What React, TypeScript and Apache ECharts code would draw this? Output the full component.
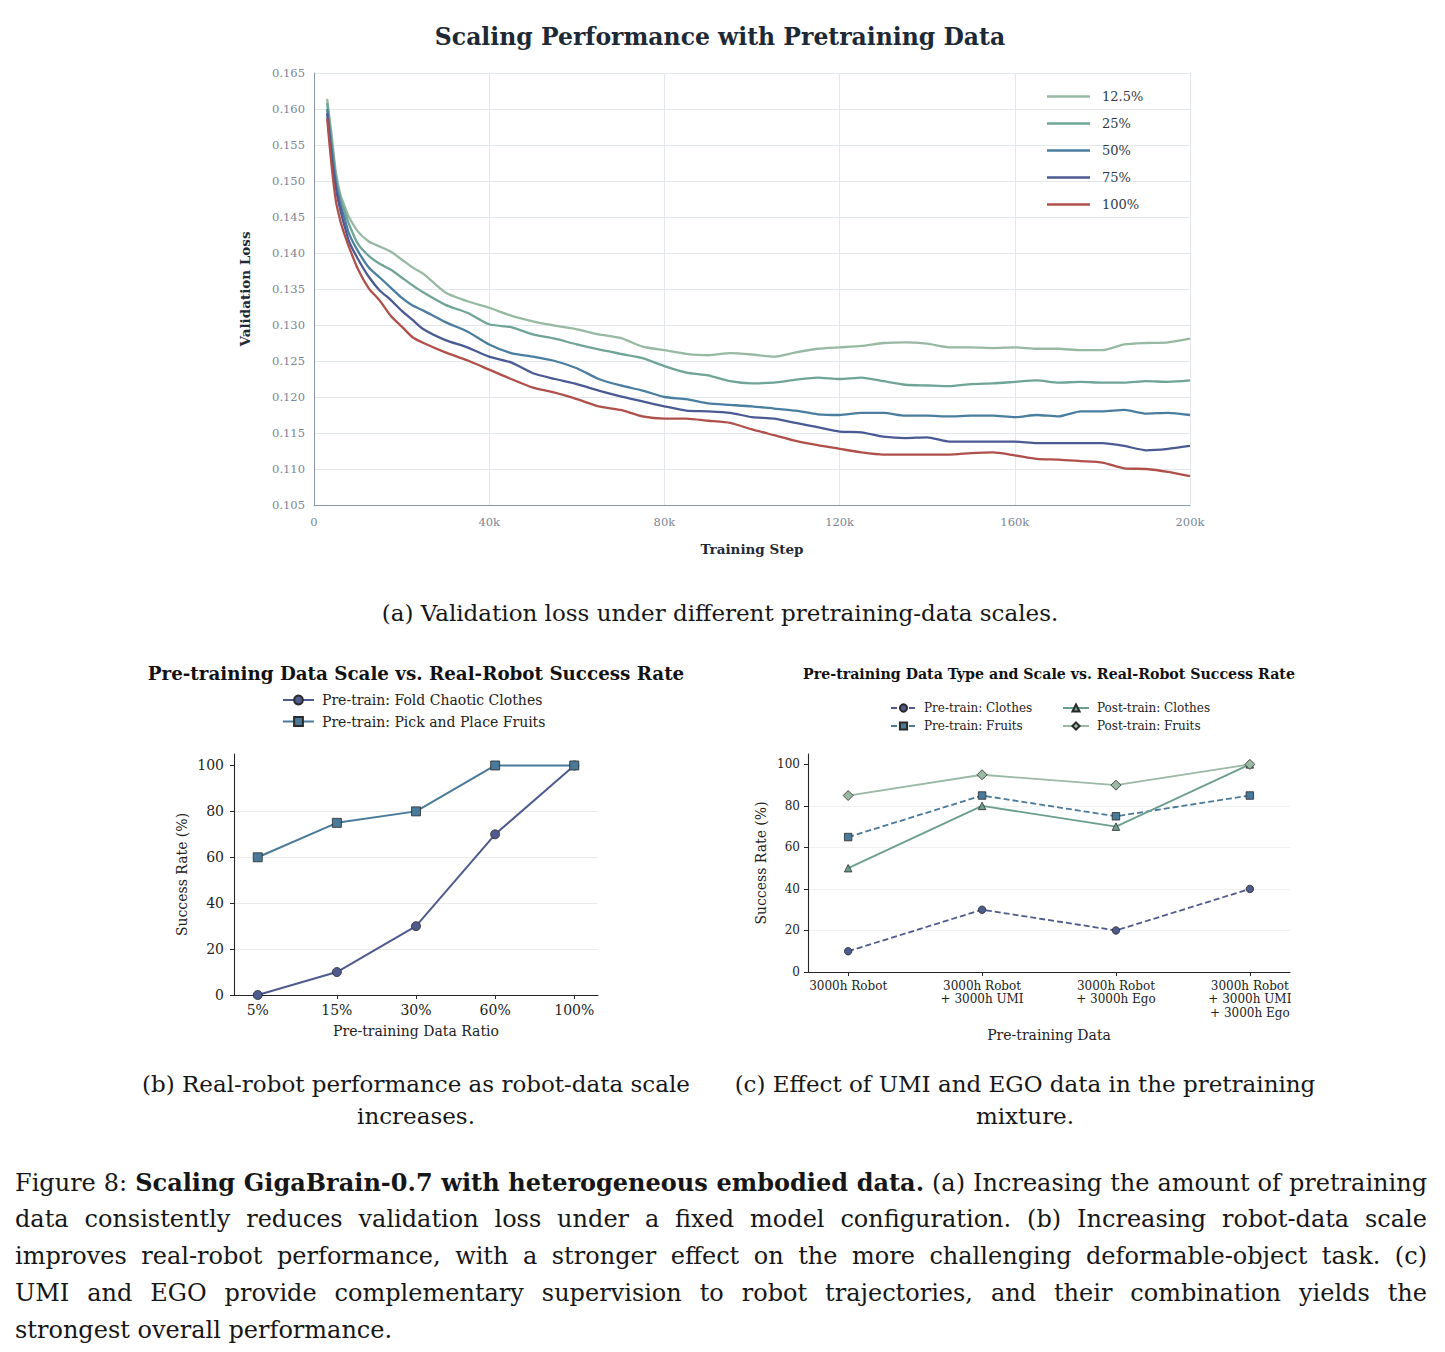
import React, { useEffect, useRef } from 'react';
import * as echarts from 'echarts';

const SERIF = '"DejaVu Serif", serif';

// (a) validation loss
const trainingSteps = [
  3000, 4000, 5000, 6000, 7000, 8000, 10000, 12500, 15000, 17500, 20000, 22500, 25000,
  30000, 35000, 40000, 45000, 50000, 55000, 60000, 65000, 70000, 75000,
  80000, 85000, 90000, 95000, 100000, 105000, 110000, 115000, 120000, 125000,
  130000, 135000, 140000, 145000, 150000, 155000, 160000, 165000, 170000, 175000,
  180000, 185000, 190000, 195000, 200000,
];
const lossNames = ['12.5%', '25%', '50%', '75%', '100%'];
const loss12 = [
  0.1614, 0.1565, 0.1512, 0.1482, 0.1465, 0.145, 0.143, 0.1416, 0.1409, 0.1402, 0.1391, 0.138, 0.1371,
  0.1345, 0.1333, 0.1324, 0.1313, 0.1305, 0.1299, 0.1294, 0.1287, 0.1282, 0.127,
  0.1265, 0.126, 0.1258, 0.1261, 0.1259, 0.1256, 0.1262, 0.1267, 0.1269, 0.1271,
  0.1275, 0.1276, 0.1274, 0.1269, 0.1269, 0.1268, 0.1269, 0.1267, 0.1267, 0.1265,
  0.1265, 0.1273, 0.1275, 0.1276, 0.1281,
];
const loss25 = [
  0.1608, 0.1556, 0.1505, 0.1476, 0.1458, 0.144, 0.1413, 0.1396, 0.1385, 0.1377, 0.1366, 0.1355, 0.1345,
  0.1328, 0.1317, 0.1301, 0.1297, 0.1287, 0.1281, 0.1273, 0.1266, 0.126, 0.1254,
  0.1243, 0.1234, 0.123, 0.1222, 0.1219, 0.122, 0.1224, 0.1227, 0.1225, 0.1227,
  0.1222, 0.1217, 0.1216, 0.1215, 0.1218, 0.1219, 0.1221, 0.1223, 0.122, 0.1221,
  0.122, 0.122, 0.1222, 0.1221, 0.1223,
];
const loss50 = [
  0.16, 0.1545, 0.1497, 0.1468, 0.1448, 0.1427, 0.1403, 0.138, 0.1366, 0.1352, 0.1338, 0.1327, 0.132,
  0.1304, 0.1291, 0.1273, 0.1261, 0.1256, 0.125, 0.124, 0.1225, 0.1216, 0.1209,
  0.12, 0.1197, 0.1191, 0.1189, 0.1187, 0.1184, 0.1181, 0.1176, 0.1175, 0.1178,
  0.1178, 0.1174, 0.1174, 0.1173, 0.1174, 0.1174, 0.1172, 0.1175, 0.1173, 0.118,
  0.118, 0.1182, 0.1177, 0.1178, 0.1175,
];
const loss75 = [
  0.1594, 0.1535, 0.149, 0.146, 0.1437, 0.1416, 0.1392, 0.1367, 0.1348, 0.1335, 0.132, 0.1307, 0.1294,
  0.1279, 0.1269, 0.1256, 0.1248, 0.1233, 0.1225, 0.1218, 0.1209, 0.1201, 0.1194,
  0.1187, 0.1181, 0.118, 0.1178, 0.1172, 0.117, 0.1164, 0.1158, 0.1152, 0.1151,
  0.1145, 0.1143, 0.1144, 0.1138, 0.1138, 0.1138, 0.1138, 0.1136, 0.1136, 0.1136,
  0.1136, 0.1132, 0.1126, 0.1128, 0.1132,
];
const loss100 = [
  0.1587, 0.1522, 0.1472, 0.1445, 0.1425, 0.1408, 0.1378, 0.1351, 0.1334, 0.1313, 0.1298, 0.1283, 0.1275,
  0.1262, 0.1251, 0.1238, 0.1225, 0.1213, 0.1206, 0.1197, 0.1187, 0.1182, 0.1173,
  0.117, 0.117, 0.1167, 0.1164, 0.1155, 0.1147, 0.1139, 0.1133, 0.1128, 0.1123,
  0.112, 0.112, 0.112, 0.112, 0.1122, 0.1123, 0.1119, 0.1114, 0.1113, 0.1111,
  0.1109, 0.1101, 0.11, 0.1096, 0.109,
];
const lossColors = ['#97b9a2', '#6fa496', '#4a7ea0', '#4b5a93', '#b0504a'];

// (b) robot-data scale
const dataRatios = ['5%', '15%', '30%', '60%', '100%'];
const foldClothesRate = [0, 10, 30, 70, 100];
const pickFruitsRate = [60, 75, 80, 100, 100];

// (c) data mixture
const mixtureLabels = [
  '3000h Robot',
  '3000h Robot\n+ 3000h UMI',
  '3000h Robot\n+ 3000h Ego',
  '3000h Robot\n+ 3000h UMI\n+ 3000h Ego',
];
const preClothes = [10, 30, 20, 40];
const preFruits = [65, 85, 75, 85];
const postClothes = [50, 80, 70, 100];
const postFruits = [85, 95, 90, 100];

const successTicks = [0, 20, 40, 60, 80, 100];

const captionLines = [
  'data consistently reduces validation loss under a fixed model configuration. (b) Increasing robot-data scale',
  'improves real-robot performance, with a stronger effect on the more challenging deformable-object task. (c)',
  'UMI and EGO provide complementary supervision to robot trajectories, and their combination yields the',
];

const lossSeries = [loss12, loss25, loss50, loss75, loss100];

const indexPairs = (vals: number[]) => vals.map((v, i) => [i, v]);

const buildOption = (): echarts.EChartsOption => {
  const darkAxis = { lineStyle: { color: '#262626', width: 1.1 } };
  const markerEdge = { borderColor: '#2a2a2a', borderWidth: 0.8 };

  return {
    animation: false,
    backgroundColor: '#ffffff',
    textStyle: { fontFamily: SERIF },
    graphic: [
      {
        type: 'text', x: 720, y: 37,
        style: { text: 'Scaling Performance with Pretraining Data', align: 'center', verticalAlign: 'middle', font: `bold 23.5px ${SERIF}`, fill: '#1d2936' },
      },
      {
        type: 'text', x: 416, y: 673,
        style: { text: 'Pre-training Data Scale vs. Real-Robot Success Rate', align: 'center', verticalAlign: 'middle', font: `bold 18.3px ${SERIF}`, fill: '#111111' },
      },
      {
        type: 'text', x: 1049, y: 674,
        style: { text: 'Pre-training Data Type and Scale vs. Real-Robot Success Rate', align: 'center', verticalAlign: 'middle', font: `bold 14.2px ${SERIF}`, fill: '#111111' },
      },
    ],
    grid: [
      { left: 314, top: 73, width: 876, height: 432 },
      { left: 234, top: 754, width: 364, height: 241 },
      { left: 808, top: 754, width: 482, height: 218 },
    ],
    legend: [
      {
        data: lossNames, orient: 'vertical', left: 1047, top: 90, padding: 0,
        icon: 'rect', itemWidth: 43, itemHeight: 2.5, itemGap: 14,
        textStyle: { fontFamily: SERIF, fontSize: 13, color: '#2f3a46', padding: [0, 0, 0, 7] },
      },
      {
        data: ['Pre-train: Fold Chaotic Clothes', 'Pre-train: Pick and Place Fruits'],
        orient: 'vertical', left: 282, top: 693, padding: 0,
        itemWidth: 31, itemHeight: 11, itemGap: 7.5,
        textStyle: { fontFamily: SERIF, fontSize: 14, color: '#222222', padding: [0, 0, 0, 3] },
      },
      {
        data: ['Pre-train: Clothes', 'Pre-train: Fruits'],
        orient: 'vertical', left: 890, top: 702, padding: 0,
        itemWidth: 25, itemHeight: 9, itemGap: 6,
        textStyle: { fontFamily: SERIF, fontSize: 12, color: '#222222', padding: [0, 0, 0, 3] },
      },
      {
        data: ['Post-train: Clothes', 'Post-train: Fruits'],
        orient: 'vertical', left: 1062, top: 702, padding: 0,
        itemWidth: 26, itemHeight: 9, itemGap: 6,
        textStyle: { fontFamily: SERIF, fontSize: 12, color: '#222222', padding: [0, 0, 0, 3] },
      },
    ],
    xAxis: [
      {
        gridIndex: 0, type: 'value', min: 0, max: 200000, interval: 40000,
        axisLine: { lineStyle: { color: '#8b98ab', width: 1 } },
        axisTick: { show: false },
        axisLabel: {
          color: '#7a8696', fontSize: 11.5, fontFamily: SERIF, margin: 11,
          formatter: (v: number) => (v === 0 ? '0' : `${v / 1000}k`),
        },
        splitLine: { show: true, lineStyle: { color: '#e3e7ee', width: 1 } },
        name: 'Training Step', nameLocation: 'middle', nameGap: 37,
        nameTextStyle: { fontFamily: SERIF, fontWeight: 'bold', fontSize: 13.5, color: '#1f2a37' },
      },
      {
        gridIndex: 1, type: 'value', min: -0.3, max: 4.3,
        axisLine: { onZero: false, ...darkAxis },
        axisTick: { show: true, customValues: [0, 1, 2, 3, 4], length: 4, lineStyle: { color: '#262626' } },
        axisLabel: {
          customValues: [0, 1, 2, 3, 4], fontSize: 14, color: '#222222', fontFamily: SERIF, margin: 8,
          formatter: (v: number) => dataRatios[Math.round(v)] ?? '',
        },
        splitLine: { show: false },
        name: 'Pre-training Data Ratio', nameLocation: 'middle', nameGap: 29,
        nameTextStyle: { fontFamily: SERIF, fontSize: 14, color: '#222222' },
      },
      {
        gridIndex: 2, type: 'value', min: -0.3, max: 3.3,
        axisLine: { onZero: false, ...darkAxis },
        axisTick: { show: true, customValues: [0, 1, 2, 3], length: 4, lineStyle: { color: '#262626' } },
        axisLabel: {
          customValues: [0, 1, 2, 3], fontSize: 12, lineHeight: 13.5, color: '#222222', fontFamily: SERIF, margin: 7,
          formatter: (v: number) => mixtureLabels[Math.round(v)] ?? '',
        },
        splitLine: { show: false },
        name: 'Pre-training Data', nameLocation: 'middle', nameGap: 56,
        nameTextStyle: { fontFamily: SERIF, fontSize: 14, color: '#222222' },
      },
    ],
    yAxis: [
      {
        gridIndex: 0, type: 'value', min: 0.105, max: 0.165, interval: 0.005,
        axisLine: { show: true, lineStyle: { color: '#8b98ab', width: 1 } },
        axisTick: { show: false },
        axisLabel: {
          color: '#7a8696', fontSize: 11.5, fontFamily: SERIF, margin: 9,
          formatter: (v: number) => v.toFixed(3),
        },
        splitLine: { show: true, lineStyle: { color: '#e3e7ee', width: 1 } },
        name: 'Validation Loss', nameLocation: 'middle', nameGap: 62, nameRotate: 90,
        nameTextStyle: { fontFamily: SERIF, fontWeight: 'bold', fontSize: 13.5, color: '#1f2a37' },
      },
      {
        gridIndex: 1, type: 'value', min: 0, max: 105, interval: 20,
        axisLine: { show: true, onZero: false, ...darkAxis },
        axisTick: { show: true, customValues: successTicks, length: 4, lineStyle: { color: '#262626' } },
        axisLabel: { customValues: successTicks, fontSize: 14, color: '#222222', fontFamily: SERIF, margin: 10 },
        splitLine: { show: true, showMaxLine: false, lineStyle: { color: '#e6e6e6', width: 0.8 } },
        name: 'Success Rate (%)', nameLocation: 'middle', nameGap: 45, nameRotate: 90,
        nameTextStyle: { fontFamily: SERIF, fontSize: 14, color: '#222222' },
      },
      {
        gridIndex: 2, type: 'value', min: 0, max: 105, interval: 20,
        axisLine: { show: true, onZero: false, ...darkAxis },
        axisTick: { show: true, customValues: successTicks, length: 4, lineStyle: { color: '#262626' } },
        axisLabel: { customValues: successTicks, fontSize: 12, color: '#222222', fontFamily: SERIF, margin: 8 },
        splitLine: { show: true, showMaxLine: false, lineStyle: { color: '#eeeeee', width: 0.8 } },
        name: 'Success Rate (%)', nameLocation: 'middle', nameGap: 40, nameRotate: 90,
        nameTextStyle: { fontFamily: SERIF, fontSize: 14, color: '#222222' },
      },
    ],
    series: [
      ...lossSeries.map((vals, k) => ({
        name: lossNames[k],
        type: 'line' as const,
        xAxisIndex: 0,
        yAxisIndex: 0,
        symbol: 'none',
        smooth: 0.2,
        lineStyle: { width: 2.3, color: lossColors[k] },
        itemStyle: { color: lossColors[k] },
        data: trainingSteps.map((s, i) => [s, vals[i]]),
      })),
      {
        name: 'Pre-train: Fold Chaotic Clothes', type: 'line', xAxisIndex: 1, yAxisIndex: 1,
        symbol: 'circle', symbolSize: 9,
        lineStyle: { width: 2, color: '#4f5a8e' },
        itemStyle: { color: '#4f5a8e', ...markerEdge },
        data: indexPairs(foldClothesRate),
      },
      {
        name: 'Pre-train: Pick and Place Fruits', type: 'line', xAxisIndex: 1, yAxisIndex: 1,
        symbol: 'rect', symbolSize: 9,
        lineStyle: { width: 2, color: '#4a7a9a' },
        itemStyle: { color: '#4a7a9a', ...markerEdge },
        data: indexPairs(pickFruitsRate),
      },
      {
        name: 'Pre-train: Clothes', type: 'line', xAxisIndex: 2, yAxisIndex: 2,
        symbol: 'circle', symbolSize: 7.5,
        lineStyle: { width: 1.8, color: '#4f5a8e', type: [6, 3] },
        itemStyle: { color: '#4f5a8e', ...markerEdge },
        data: indexPairs(preClothes),
      },
      {
        name: 'Pre-train: Fruits', type: 'line', xAxisIndex: 2, yAxisIndex: 2,
        symbol: 'rect', symbolSize: 7.5,
        lineStyle: { width: 1.8, color: '#4a7a9a', type: [6, 3] },
        itemStyle: { color: '#4a7a9a', ...markerEdge },
        data: indexPairs(preFruits),
      },
      {
        name: 'Post-train: Clothes', type: 'line', xAxisIndex: 2, yAxisIndex: 2,
        symbol: 'triangle', symbolSize: 7.5,
        lineStyle: { width: 1.8, color: '#6b9e8e' },
        itemStyle: { color: '#6b9e8e', ...markerEdge },
        data: indexPairs(postClothes),
      },
      {
        name: 'Post-train: Fruits', type: 'line', xAxisIndex: 2, yAxisIndex: 2,
        symbol: 'diamond', symbolSize: 10,
        lineStyle: { width: 1.8, color: '#9bb9a5' },
        itemStyle: { color: '#9bb9a5', ...markerEdge },
        data: indexPairs(postFruits),
      },
    ],
  };
};

const lineBox = (top: number, extra: React.CSSProperties = {}): React.CSSProperties => ({
  position: 'absolute',
  top,
  height: 37,
  lineHeight: '37px',
  fontFamily: SERIF,
  fontSize: 24,
  color: '#161616',
  ...extra,
});

export default function App() {
  const chartRef = useRef<HTMLDivElement>(null);

  useEffect(() => {
    if (!chartRef.current) return;
    const chart = echarts.init(chartRef.current, null, { renderer: 'svg' });
    chart.setOption(buildOption());
    return () => {
      chart.dispose();
    };
  }, []);

  const justified: React.CSSProperties = { left: 15, width: 1412, textAlign: 'justify', textAlignLast: 'justify' };

  return (
    <div style={{ position: 'absolute', left: 0, top: 0, width: 1445, height: 1352, background: '#fff', overflow: 'hidden' }}>
      <div ref={chartRef} style={{ position: 'absolute', left: 0, top: 0, width: 1445, height: 1352 }} />

      <div style={lineBox(595, { left: 220, width: 1000, textAlign: 'center', fontSize: 23 })}>
        (a) Validation loss under different pretraining-data scales.
      </div>
      <div style={lineBox(1068, { left: 66, width: 700, textAlign: 'center', fontSize: 23, lineHeight: '32px', height: 64 })}>
        (b) Real-robot performance as robot-data scale
        <br />
        increases.
      </div>
      <div style={lineBox(1068, { left: 675, width: 700, textAlign: 'center', fontSize: 23, lineHeight: '32px', height: 64 })}>
        (c) Effect of UMI and EGO data in the pretraining
        <br />
        mixture.
      </div>

      <div style={lineBox(1164, justified)}>
        Figure 8: <b>Scaling GigaBrain-0.7 with heterogeneous embodied data.</b> (a) Increasing the amount of pretraining
      </div>
      {captionLines.map((t, i) => (
        <div key={i} style={lineBox(1201 + i * 37, justified)}>
          {t}
        </div>
      ))}
      <div style={lineBox(1312, { left: 15, width: 1412 })}>strongest overall performance.</div>
    </div>
  );
}
